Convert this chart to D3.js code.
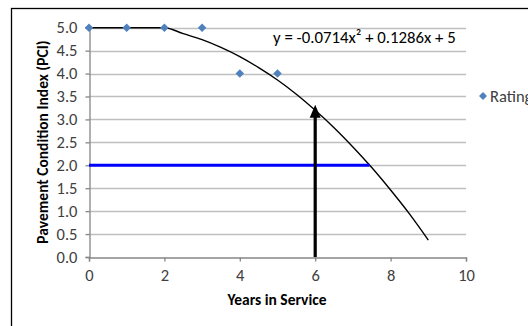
<!DOCTYPE html>
<html>
<head>
<meta charset="utf-8">
<title>Pavement Condition Index</title>
<style>
  body { margin: 0; background: #fff; }
  svg { display: block; }
  text { font-family: Carlito, "Open Sans", "Liberation Sans", sans-serif; }
</style>
</head>
<body>
<script src="https://d3js.org/d3.v7.min.js"></script>
<script>
// rating observations
var ratingYears = [0, 1, 2, 3, 4, 5];
var ratingValues = [5, 5, 5, 5, 4, 4];

// trendline (capped at 5.0)
var trendYears = [0, 1, 2, 2.5, 3, 3.5, 4, 4.5, 5, 5.5, 6, 6.5, 7, 7.5, 8, 8.5, 9];
var trendValues = [5, 5, 5, 4.87, 4.74, 4.57, 4.37, 4.13, 3.86, 3.55, 3.2, 2.82, 2.40, 1.95, 1.46, 0.94, 0.37];

var xTicks = [0, 2, 4, 6, 8, 10];
var yTicks = [0, 0.5, 1, 1.5, 2, 2.5, 3, 3.5, 4, 4.5, 5];

var targetPCI = 2.0, targetYears = 7.44; // blue line
var arrowYear = 6, arrowTop = 3.32;      // black arrow

var equation = "y = -0.0714x² + 0.1286x + 5";
var legendLabel = "Rating";

var W = 528, H = 326;
var svg = d3.select("body").append("svg").attr("width", W).attr("height", H);

// chart border (cropped on right & bottom)
svg.append("rect")
    .attr("x", 11.5).attr("y", 8.5)
    .attr("width", 540).attr("height", 340)
    .attr("fill", "#fff").attr("stroke", "#000").attr("stroke-width", 1.3);

var x = d3.scaleLinear().domain([0, 10]).range([89, 466]);
var y = d3.scaleLinear().domain([0, 5]).range([257, 27.7]);

// grid
svg.append("g").selectAll("line")
    .data(yTicks.filter(function(d){ return d > 0; }))
    .enter().append("line")
    .attr("x1", x(0)).attr("x2", x(10))
    .attr("y1", function(d){ return Math.round(y(d)) + 0.5; })
    .attr("y2", function(d){ return Math.round(y(d)) + 0.5; })
    .attr("stroke", "#BFBFBF").attr("stroke-width", 1.3);

// axes
var xAxis = svg.append("g")
    .attr("transform", "translate(0," + (Math.round(y(0)) + 0.5) + ")")
    .call(d3.axisBottom(x).tickValues(xTicks).tickSize(4).tickPadding(8)
        .tickFormat(d3.format("d")));
var yAxis = svg.append("g")
    .attr("transform", "translate(" + (Math.round(x(0)) + 0.5) + ",0)")
    .call(d3.axisLeft(y).tickValues(yTicks).tickSize(4).tickPadding(8)
        .tickFormat(d3.format(".1f")));

[xAxis, yAxis].forEach(function(g) {
    g.select(".domain").attr("stroke", "#868686").attr("stroke-width", 1.3);
    g.selectAll(".tick line").attr("stroke", "#868686").attr("stroke-width", 1.3);
    g.selectAll(".tick text")
        .attr("fill", "#404040")
        .style("font-size", "16.5px")
        .style("font-family", "Carlito, 'Open Sans', 'Liberation Sans', sans-serif");
});
xAxis.selectAll(".tick line").attr("y1", 0);

// trendline
svg.append("path")
    .datum(trendYears.map(function(d, i){ return [d, trendValues[i]]; }))
    .attr("fill", "none").attr("stroke", "#000").attr("stroke-width", 1.4)
    .attr("d", d3.line()
        .x(function(d){ return x(d[0]); })
        .y(function(d){ return y(d[1]); })
        .curve(d3.curveMonotoneX));

// blue target line
svg.append("line")
    .attr("x1", x(0)).attr("x2", x(targetYears))
    .attr("y1", y(targetPCI)).attr("y2", y(targetPCI))
    .attr("stroke", "#0000FF").attr("stroke-width", 3);

// black arrow
svg.append("line")
    .attr("x1", x(arrowYear)).attr("x2", x(arrowYear))
    .attr("y1", y(0)).attr("y2", y(arrowTop) + 10)
    .attr("stroke", "#000").attr("stroke-width", 3.2);
svg.append("path")
    .attr("d", "M" + x(arrowYear) + "," + y(arrowTop) +
        "L" + (x(arrowYear) - 5.5) + "," + (y(arrowTop) + 13) +
        "L" + (x(arrowYear) + 5.5) + "," + (y(arrowTop) + 13) + "Z")
    .attr("fill", "#000");

// diamonds
var diamond = d3.symbol().type(d3.symbolDiamond2).size(46);
svg.append("g").selectAll("path")
    .data(ratingYears.map(function(d, i){ return [d, ratingValues[i]]; }))
    .enter().append("path")
    .attr("transform", function(d){ return "translate(" + x(d[0]) + "," + y(d[1]) + ")"; })
    .attr("d", diamond)
    .attr("fill", "#4F81BD");

// equation label
svg.append("text")
    .attr("x", 273).attr("y", 43)
    .style("font-size", "16.8px").attr("fill", "#000")
    .text(equation);

// legend
svg.append("path")
    .attr("transform", "translate(483,96)")
    .attr("d", d3.symbol().type(d3.symbolDiamond2).size(40))
    .attr("fill", "#4F81BD");
svg.append("text")
    .attr("x", 490).attr("y", 101.5)
    .style("font-size", "16.5px").attr("fill", "#404040")
    .text(legendLabel);

// axis titles
svg.append("text")
    .attr("x", 277).attr("y", 305)
    .attr("text-anchor", "middle")
    .style("font-size", "15.5px").style("font-weight", "bold")
    .attr("fill", "#000")
    .text("Years in Service");
svg.append("text")
    .attr("transform", "translate(48,142) rotate(-90)")
    .attr("text-anchor", "middle")
    .style("font-size", "15.5px").style("font-weight", "bold")
    .attr("fill", "#000")
    .text("Pavement Condition Index (PCI)");
</script>
</body>
</html>
